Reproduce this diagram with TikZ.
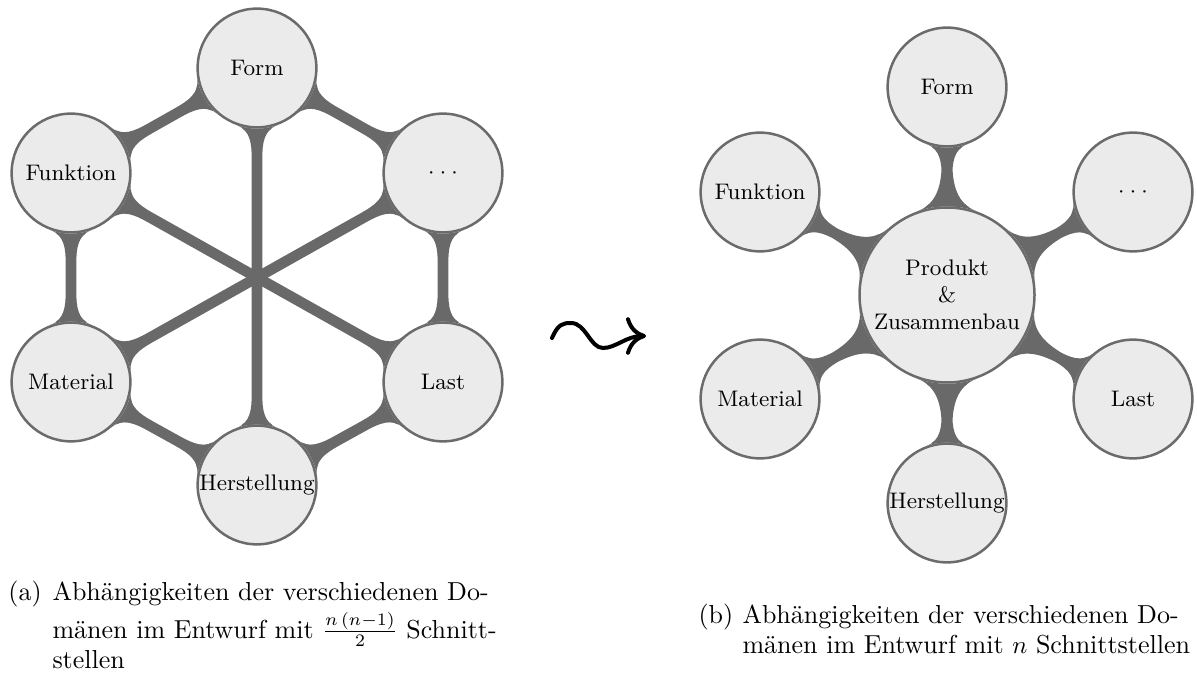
\documentclass[tikz,border=0pt]{standalone}
\usepackage{amsmath}
\usetikzlibrary{mindmap,backgrounds,arrows.meta}
\definecolor{ringgray}{gray}{0.42}
\definecolor{bargray}{gray}{0.41}
\definecolor{cellfill}{gray}{0.922}
\newcommand{\spreaddots}{${\cdot}\:{\cdot}\:{\cdot}$}
\tikzset{
  dombox/.style={circle, draw=ringgray, fill=cellfill, line width=1pt,
    minimum size=47.5pt, inner sep=0pt, align=center,
    font=\fontsize{9}{10.9}\selectfont},
  corebox/.style={dombox, minimum size=70pt},
  linkbar/.style={circle connection bar switch color=from (bargray) to (bargray),
    line width=3.3pt},
  captext/.style={anchor=base west, inner sep=0pt,
    font=\fontsize{10.4}{12.5}\selectfont},
  squiggle/.style={line width=1.6pt, line cap=round,
    -{To[length=8pt,width=15pt]}},
}
\begin{document}
\begin{tikzpicture}[x=0.4pt,y=0.4pt]
\useasboundingbox (0,0) rectangle (1197,-672);

% (a) every domain linked with every other one
\node[dombox] (formA) at (257,-68)  {Form};
\node[dombox] (funkA) at (71,-173)  {Funktion};
\node[dombox] (dotsA) at (443,-173) {\spreaddots};
\node[dombox] (matA)  at (71,-382)  {Material};
\node[dombox] (lastA) at (443,-382) {Last};
\node[dombox] (herA)  at (257,-485) {Herstellung};

% (b) all domains linked through the product
\node[corebox] (prodB) at (947,-295) {Produkt\\\&\\Zusammenbau};
\node[dombox] (formB) at (947,-87)  {Form};
\node[dombox] (funkB) at (760,-192) {Funktion};
\node[dombox] (dotsB) at (1133,-192) {\spreaddots};
\node[dombox] (matB)  at (760,-399) {Material};
\node[dombox] (lastB) at (1133,-399) {Last};
\node[dombox] (herB)  at (947,-503) {Herstellung};

\begin{pgfonlayer}{background}
  % ring of neighbours
  \path (funkA) to[linkbar] (formA);
  \path (formA) to[linkbar] (dotsA);
  \path (lastA) to[linkbar] (dotsA);
  \path (lastA) to[linkbar] (herA);
  \path (herA)  to[linkbar] (matA);
  \path (matA)  to[linkbar] (funkA);
  % diagonals through the middle
  \path (formA) to[linkbar] (herA);
  \path (funkA) to[linkbar] (lastA);
  \path (matA)  to[linkbar] (dotsA);
  % star around the product
  \path (formB) to[linkbar] (prodB);
  \path (funkB) to[linkbar] (prodB);
  \path (dotsB) to[linkbar] (prodB);
  \path (matB)  to[linkbar] (prodB);
  \path (lastB) to[linkbar] (prodB);
  \path (herB)  to[linkbar] (prodB);
\end{pgfonlayer}

% squiggly arrow between the two parts
\coordinate (sqA) at (552,-338);
\coordinate (sqB) at (646,-336);
\draw[squiggle] (sqA) .. controls (558,-324) and (563,-323) .. (571,-323)
  .. controls (586,-323) and (590,-348) .. (603,-348)
  .. controls (616,-348) and (626,-336) .. (sqB);

% captions
\node[captext] (labA) at (8,-600) {(a)};
\node[captext] (capA1) at (52,-600) {Abhängigkeiten der verschiedenen Do-};
\node[captext] (capA2) at (52,-638) {mänen im Entwurf mit $\frac{n\,(n-1)}{2}$ Schnitt-};
\node[captext] (capA3) at (52,-668) {stellen};

\node[captext] (labB) at (698,-623) {(b)};
\node[captext] (capB1) at (742,-623) {Abhängigkeiten der verschiedenen Do-};
\node[captext] (capB2) at (742,-653) {mänen im Entwurf mit $n$ Schnittstellen};
\end{tikzpicture}
\end{document}
